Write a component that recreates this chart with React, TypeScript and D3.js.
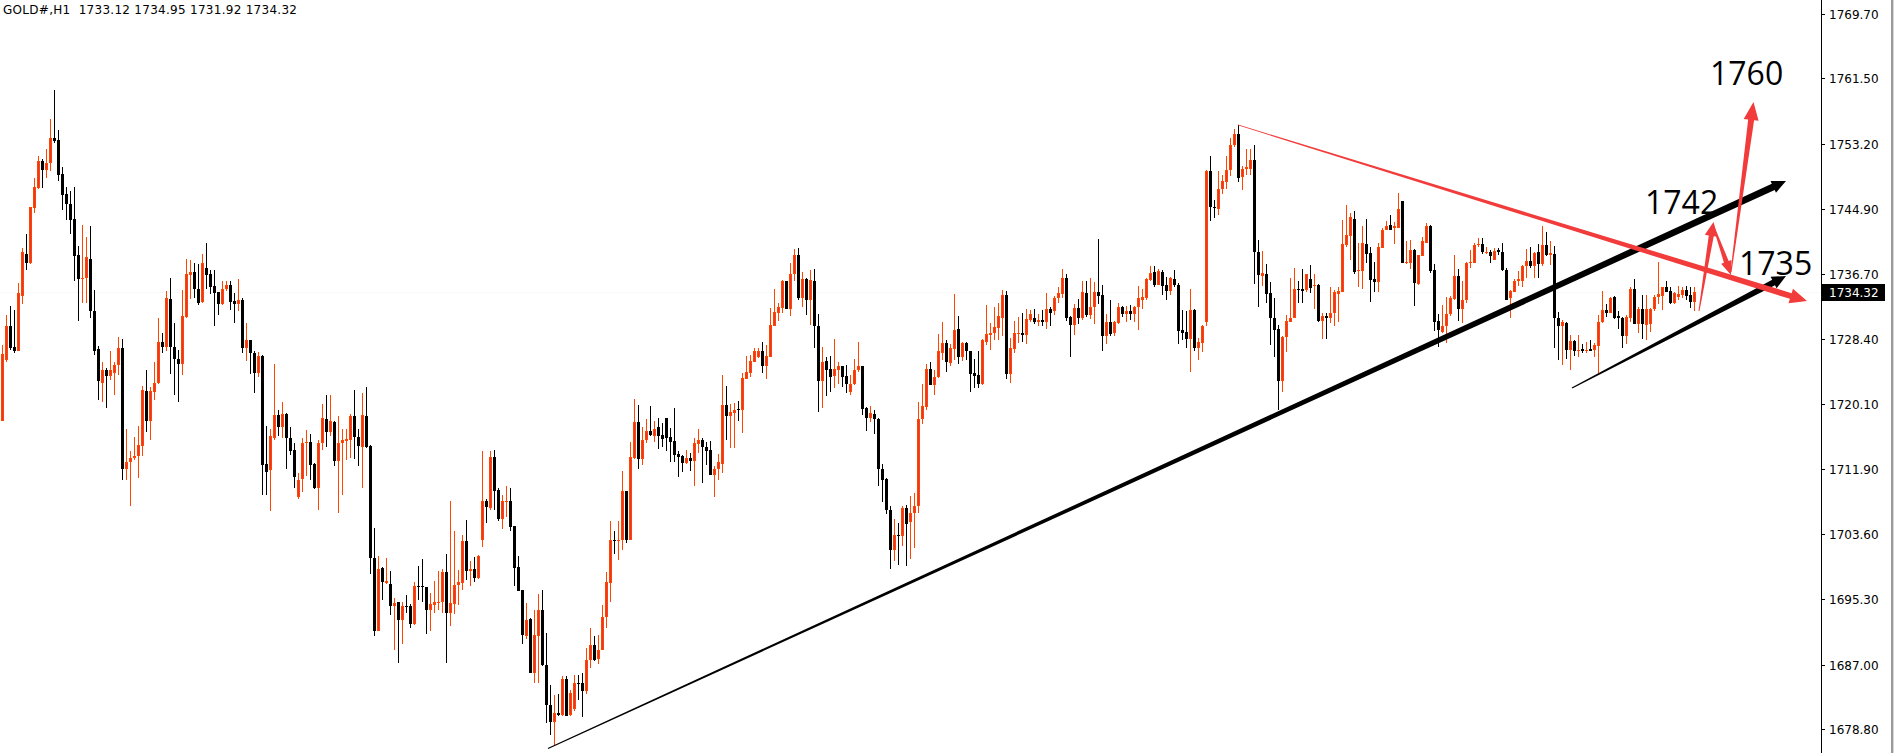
import React from 'react';
import * as d3 from 'd3';

// ---------- data (H1 candles, oldest first) ----------
const open = [
1718.0,1725.7,1730.0,1727.4,1726.8,1733.8,1739.2,1738.1,1745.0,1747.6,
1751.0,1749.9,1750.7,1753.9,1753.7,1749.4,1746.8,1745.6,1743.6,1739.1,
1736.0,1736.1,1738.6,1731.9,1727.1,1722.8,1724.5,1723.7,1724.0,1725.1,
1727.3,1711.8,1712.7,1713.2,1713.5,1714.8,1721.8,1718.0,1721.7,1722.8,
1728.0,1727.4,1733.5,1727.4,1725.8,1725.2,1731.2,1736.5,1736.9,1734.8,
1733.1,1737.4,1736.6,1735.1,1734.3,1732.8,1734.8,1735.3,1733.2,1732.8,
1733.3,1727.3,1728.3,1726.6,1724.1,1726.2,1712.5,1711.7,1715.8,1718.7,
1717.2,1718.9,1715.8,1714.3,1708.3,1710.6,1715.1,1715.3,1712.5,1709.5,
1715.1,1718.2,1716.6,1717.8,1712.9,1715.1,1715.4,1715.6,1718.6,1715.9,
1714.6,1718.6,1714.8,1700.5,1691.2,1699.3,1697.3,1697.2,1694.4,1694.9,
1692.7,1694.4,1694.4,1692.1,1697.0,1697.0,1696.8,1693.9,1694.6,1694.8,
1694.9,1698.7,1693.6,1694.7,1697.1,1697.4,1702.7,1698.9,1699.1,1698.0,
1702.8,1707.8,1706.9,1713.4,1709.2,1705.5,1707.7,1707.8,1704.6,1699.4,
1696.5,1690.6,1692.8,1685.9,1690.6,1693.9,1686.9,1681.9,1679.7,1680.8,
1680.6,1685.2,1680.6,1681.3,1684.7,1684.6,1683.6,1687.6,1689.5,1687.7,
1688.9,1693.0,1697.4,1702.8,1702.7,1702.8,1709.1,1702.8,1713.2,1717.8,
1713.1,1715.5,1716.7,1716.1,1717.2,1716.2,1718.3,1715.9,1715.4,1713.7,
1713.5,1712.6,1713.2,1712.9,1715.0,1715.5,1714.6,1714.3,1711.1,1711.9,
1712.5,1720.0,1718.6,1719.0,1719.5,1719.4,1723.3,1724.1,1725.5,1726.1,
1726.9,1724.9,1726.1,1730.0,1731.7,1732.3,1735.7,1732.2,1736.6,1739.1,
1733.6,1736.0,1733.3,1735.8,1730.0,1723.0,1725.6,1724.6,1723.7,1724.5,
1724.9,1723.7,1721.6,1722.6,1724.4,1725.0,1719.6,1718.3,1718.9,1718.2,
1711.9,1710.6,1706.6,1701.6,1703.5,1703.3,1706.9,1705.1,1706.2,1707.1,
1718.2,1719.8,1724.6,1722.5,1723.5,1726.6,1727.9,1725.3,1727.1,1729.6,
1726.1,1727.9,1726.8,1724.0,1723.8,1722.7,1728.0,1728.9,1729.2,1729.8,
1731.1,1734.0,1723.9,1727.1,1729.0,1729.2,1728.9,1730.8,1731.0,1730.6,
1730.8,1730.6,1732.2,1731.9,1733.6,1734.1,1736.2,1731.2,1730.1,1732.3,
1731.1,1734.2,1731.4,1732.5,1734.3,1734.0,1728.8,1730.5,1729.1,1730.4,
1732.5,1731.5,1731.9,1731.6,1732.5,1733.4,1733.6,1735.9,1736.9,1735.3,
1736.9,1735.3,1734.5,1736.0,1735.3,1729.5,1729.3,1728.4,1732.1,1727.3,
1727.9,1730.5,1749.7,1745.2,1744.9,1747.5,1748.4,1749.9,1753.0,1754.5,
1749.0,1750.0,1750.0,1751.1,1739.5,1736.4,1736.7,1734.2,1731.1,1729.7,
1723.1,1728.6,1730.6,1731.1,1734.8,1734.8,1734.6,1736.0,1735.2,1735.3,
1730.7,1731.3,1731.0,1731.7,1734.1,1734.4,1740.3,1741.5,1743.7,1737.0,
1737.0,1740.5,1739.3,1736.0,1735.6,1740.0,1742.2,1742.9,1742.5,1742.5,
1745.9,1738.1,1738.1,1739.7,1735.4,1738.9,1740.6,1742.7,1737.2,1730.7,
1729.3,1730.0,1731.5,1733.5,1736.4,1732.2,1733.3,1738.0,1738.1,1740.3,
1740.5,1739.4,1739.5,1738.4,1739.7,1739.4,1737.1,1733.6,1734.4,1735.8,
1735.8,1737.6,1738.3,1737.6,1739.4,1737.9,1740.3,1739.1,1739.2,1731.0,
1730.0,1730.4,1727.0,1728.1,1726.9,1727.1,1726.9,1727.1,1727.0,1727.5,
1730.5,1732.1,1731.7,1733.7,1731.3,1731.1,1728.8,1731.1,1734.7,1730.3,
1732.2,1730.2,1730.3,1732.2,1733.7,1733.9,1735.0,1734.5,1732.9,1733.7,
1734.0,1734.6,1734.0,1733.12,
];
const high = [
1727.6,1731.4,1732.6,1732.1,1735.5,1740.0,1741.7,1745.2,1748.8,1751.7,
1751.3,1752.6,1756.3,1760.0,1755.0,1750.2,1747.7,1747.2,1747.7,1740.2,
1742.9,1741.4,1742.7,1734.6,1727.5,1725.4,1724.7,1726.9,1725.4,1728.6,
1728.4,1716.9,1714.2,1715.9,1717.3,1722.4,1724.4,1722.3,1725.5,1731.1,
1729.1,1734.5,1736.2,1730.4,1727.0,1734.6,1738.6,1738.4,1738.1,1737.9,
1739.2,1740.6,1737.1,1737.1,1734.3,1735.7,1735.8,1735.8,1734.2,1736.0,
1733.6,1730.4,1728.3,1726.8,1726.7,1726.3,1717.3,1716.9,1725.2,1719.4,
1720.4,1719.0,1717.2,1715.2,1711.3,1715.8,1716.8,1716.3,1712.6,1715.5,
1720.1,1721.3,1721.3,1718.0,1718.6,1716.9,1716.9,1718.9,1721.9,1716.9,
1721.5,1722.3,1714.9,1704.4,1700.8,1699.4,1700.6,1698.9,1695.4,1694.9,
1695.0,1695.8,1694.7,1697.5,1699.5,1700.4,1696.9,1696.1,1697.6,1698.9,
1699.1,1701.1,1707.8,1704.0,1699.0,1703.5,1705.4,1700.2,1700.7,1700.9,
1714.2,1708.1,1714.1,1714.3,1709.5,1708.6,1709.7,1709.4,1704.6,1700.8,
1696.5,1694.8,1692.9,1693.9,1696.0,1696.5,1691.0,1684.4,1683.1,1683.3,
1685.6,1685.5,1683.7,1685.7,1685.7,1685.9,1689.1,1691.6,1690.6,1690.8,
1694.6,1698.7,1705.2,1704.0,1705.2,1711.6,1709.1,1715.3,1720.8,1720.0,
1717.2,1718.2,1719.9,1718.0,1718.3,1717.7,1718.3,1717.1,1719.6,1714.1,
1713.6,1714.3,1713.9,1715.8,1716.9,1715.8,1715.3,1715.4,1712.2,1713.8,
1723.8,1722.4,1720.1,1720.3,1720.5,1724.0,1726.2,1726.3,1727.3,1727.2,
1728.0,1727.6,1732.3,1734.7,1732.9,1735.9,1735.8,1738.0,1739.8,1739.9,
1736.9,1736.2,1737.2,1737.3,1731.6,1727.4,1726.1,1726.2,1728.4,1725.5,
1724.9,1725.1,1723.8,1725.8,1728.0,1725.0,1719.8,1719.9,1719.4,1718.4,
1712.5,1710.7,1707.1,1705.5,1705.0,1707.1,1707.3,1708.4,1708.8,1720.4,
1722.7,1725.2,1725.4,1724.4,1729.0,1730.6,1728.3,1727.7,1734.1,1731.3,
1728.0,1728.0,1726.9,1725.9,1726.8,1728.4,1732.7,1730.4,1732.4,1733.0,
1734.6,1734.5,1728.5,1730.7,1731.2,1731.7,1732.2,1732.1,1732.2,1731.6,
1732.1,1734.2,1732.4,1733.8,1735.0,1737.3,1736.7,1731.3,1732.8,1733.5,
1735.8,1735.7,1736.2,1735.6,1741.1,1735.3,1731.6,1733.3,1730.7,1733.0,
1732.6,1732.6,1732.7,1732.6,1735.1,1734.8,1736.2,1737.7,1737.6,1737.3,
1737.1,1736.3,1736.3,1737.2,1735.5,1732.1,1732.0,1734.7,1732.2,1728.5,
1730.2,1749.9,1751.7,1746.1,1749.8,1749.2,1751.6,1753.9,1755.1,1755.6,
1750.4,1752.5,1752.5,1753.1,1741.0,1739.6,1737.9,1735.6,1733.6,1730.2,
1728.7,1731.4,1736.1,1737.4,1735.8,1737.3,1736.7,1737.8,1736.7,1735.4,
1731.7,1731.7,1735.0,1734.6,1735.0,1743.5,1745.4,1744.4,1744.7,1740.6,
1742.7,1743.6,1740.1,1738.2,1740.6,1742.5,1743.4,1744.2,1743.2,1747.0,
1745.9,1740.9,1741.0,1739.8,1739.1,1741.4,1743.1,1742.9,1737.9,1731.6,
1732.7,1733.7,1733.8,1739.1,1737.3,1735.7,1738.2,1739.7,1740.6,1741.2,
1741.2,1740.1,1739.7,1739.9,1739.9,1740.6,1737.4,1734.6,1736.0,1737.0,
1737.8,1739.8,1740.1,1739.4,1740.4,1742.7,1742.0,1740.9,1740.2,1731.8,
1730.8,1730.5,1728.9,1728.3,1728.9,1727.8,1728.0,1728.3,1727.9,1731.4,
1734.5,1732.8,1733.7,1733.9,1731.9,1731.2,1731.4,1735.0,1736.0,1732.5,
1734.0,1734.0,1732.3,1734.0,1738.2,1735.0,1735.7,1735.0,1734.4,1735.1,
1735.0,1735.1,1735.0,1734.95,
];
const low = [
1717.9,1725.5,1727.0,1726.6,1726.8,1732.8,1737.2,1737.9,1744.4,1747.5,
1747.6,1748.9,1749.7,1753.3,1748.5,1744.8,1743.5,1741.7,1735.8,1730.7,
1733.0,1732.9,1731.0,1726.4,1720.6,1720.4,1719.6,1723.2,1721.3,1723.8,
1710.5,1710.4,1707.2,1713.0,1710.7,1713.5,1716.6,1715.5,1720.6,1722.7,
1726.6,1726.9,1723.9,1721.3,1720.4,1723.8,1731.1,1733.5,1733.6,1732.7,
1732.9,1734.7,1734.1,1730.0,1731.4,1732.7,1734.5,1732.1,1730.4,1731.9,
1726.6,1725.6,1723.9,1721.5,1723.6,1708.6,1708.6,1706.5,1715.5,1716.0,
1715.8,1711.9,1713.6,1709.5,1708.1,1708.9,1711.0,1710.5,1709.3,1706.6,
1714.3,1714.7,1716.0,1712.2,1706.3,1708.6,1713.0,1713.3,1713.1,1712.2,
1709.5,1714.5,1698.5,1690.6,1691.2,1695.2,1697.2,1693.3,1688.8,1687.2,
1689.6,1693.5,1691.7,1692.0,1695.2,1694.9,1690.9,1691.2,1693.6,1693.9,
1693.6,1687.2,1691.9,1693.4,1694.6,1696.5,1697.8,1697.0,1697.5,1697.9,
1702.0,1705.0,1706.7,1706.7,1705.3,1704.2,1705.8,1704.0,1697.0,1696.3,
1689.6,1690.2,1685.9,1684.7,1684.7,1686.8,1679.6,1678.1,1676.8,1680.4,
1680.4,1680.4,1680.4,1681.1,1682.5,1680.3,1683.3,1686.5,1687.5,1687.1,
1688.9,1691.7,1694.9,1701.1,1700.3,1701.6,1702.5,1702.8,1713.1,1711.8,
1712.4,1715.2,1716.0,1715.3,1714.4,1714.6,1714.1,1712.7,1712.8,1710.8,
1711.5,1712.5,1711.6,1709.7,1713.9,1710.1,1712.4,1711.1,1708.3,1710.5,
1711.4,1715.5,1714.5,1714.5,1717.9,1716.4,1723.3,1723.5,1725.5,1726.0,
1724.1,1723.3,1726.1,1730.0,1730.7,1731.7,1732.2,1731.3,1735.7,1733.3,
1732.4,1731.4,1730.2,1727.3,1719.1,1719.6,1721.1,1721.7,1722.2,1722.7,
1722.3,1721.5,1721.3,1722.5,1724.2,1718.7,1716.7,1717.8,1716.3,1709.7,
1707.6,1706.1,1699.2,1700.2,1699.7,1702.1,1699.5,1700.4,1701.8,1706.2,
1717.6,1719.4,1722.5,1721.2,1723.4,1725.7,1724.2,1724.9,1725.7,1725.2,
1725.6,1725.7,1721.7,1722.2,1722.1,1722.5,1727.6,1727.0,1728.2,1728.2,
1728.7,1723.3,1722.8,1726.6,1727.9,1728.0,1727.8,1730.6,1730.3,1730.0,
1730.0,1729.6,1730.0,1731.4,1733.0,1733.6,1730.7,1726.1,1728.9,1730.3,
1730.8,1731.2,1730.9,1730.3,1732.8,1726.9,1727.8,1728.8,1728.8,1730.3,
1731.2,1730.5,1730.8,1730.5,1729.5,1732.2,1733.3,1735.8,1735.0,1735.2,
1734.0,1733.3,1734.0,1735.0,1727.8,1728.3,1727.2,1724.2,1726.9,1725.7,
1726.7,1730.0,1743.4,1743.8,1744.2,1746.8,1747.5,1749.1,1752.8,1748.3,
1747.3,1749.2,1749.2,1735.4,1732.5,1735.1,1733.0,1727.6,1726.1,1719.4,
1721.6,1726.7,1730.5,1731.0,1733.0,1733.0,1734.4,1734.2,1732.2,1730.6,
1728.4,1728.4,1730.4,1730.0,1730.6,1734.3,1740.1,1738.4,1736.6,1735.0,
1734.8,1738.1,1733.1,1734.4,1734.3,1739.9,1742.2,1742.2,1740.4,1742.5,
1738.1,1737.9,1737.3,1732.6,1735.3,1738.9,1740.6,1736.8,1729.4,1727.4,
1729.2,1727.9,1731.3,1733.3,1730.7,1730.4,1733.0,1737.4,1738.0,1740.1,
1739.2,1739.2,1738.0,1738.4,1739.1,1737.0,1733.4,1731.0,1734.3,1735.1,
1735.0,1736.1,1737.4,1736.1,1736.2,1737.7,1738.9,1737.8,1727.3,1725.7,
1725.1,1725.9,1724.5,1726.2,1726.1,1726.6,1726.6,1726.8,1726.1,1724.0,
1730.4,1731.2,1731.7,1730.9,1729.6,1727.2,1727.8,1730.6,1730.3,1729.2,
1728.4,1728.3,1729.3,1731.9,1732.8,1732.1,1734.3,1732.8,1732.8,1733.3,
1733.6,1733.3,1732.3,1731.92,
];
const close = [
1726.5,1730.0,1727.3,1726.8,1734.2,1739.4,1738.1,1745.1,1747.7,1751.0,
1749.9,1750.7,1753.9,1753.6,1749.2,1746.7,1745.6,1743.5,1738.9,1736.0,
1736.1,1738.8,1731.9,1726.9,1723.0,1724.5,1723.7,1724.5,1725.1,1727.3,
1711.8,1712.7,1713.2,1713.5,1714.9,1721.9,1717.9,1721.8,1722.8,1728.0,
1727.4,1733.6,1727.4,1725.8,1725.2,1731.3,1736.7,1736.9,1734.7,1733.0,
1738.1,1736.5,1735.0,1734.2,1732.8,1734.8,1735.3,1733.1,1732.8,1733.3,
1727.3,1728.3,1726.6,1724.0,1726.2,1712.4,1711.5,1716.0,1718.7,1717.2,
1718.9,1715.8,1714.2,1710.8,1710.5,1715.1,1715.3,1712.3,1709.4,1715.1,
1718.3,1716.6,1718.0,1712.9,1715.2,1715.5,1715.7,1718.6,1715.9,1714.8,
1718.7,1714.7,1700.5,1691.2,1699.2,1697.5,1697.6,1694.4,1694.8,1692.7,
1694.4,1694.3,1692.2,1697.0,1696.9,1696.8,1693.9,1694.7,1694.9,1695.0,
1698.7,1693.6,1694.8,1697.1,1697.5,1702.7,1698.9,1699.1,1698.0,1700.8,
1707.8,1707.0,1713.4,1709.1,1705.5,1707.8,1707.8,1704.5,1699.3,1696.4,
1690.7,1692.7,1685.9,1690.8,1693.9,1686.9,1681.8,1679.7,1680.8,1680.6,
1685.2,1680.5,1683.4,1684.7,1684.6,1683.6,1687.6,1689.5,1687.6,1688.9,
1693.0,1697.5,1702.8,1702.7,1702.8,1709.1,1702.8,1713.4,1717.8,1713.1,
1715.5,1716.7,1716.2,1717.0,1716.1,1715.7,1715.8,1715.3,1713.6,1713.4,
1712.6,1713.2,1712.9,1715.2,1715.5,1714.6,1714.2,1711.1,1711.9,1712.7,
1720.0,1718.6,1719.1,1719.4,1719.4,1723.4,1724.2,1725.6,1726.8,1726.9,
1724.9,1726.2,1730.1,1731.8,1732.4,1735.7,1732.2,1736.7,1739.1,1733.6,
1736.0,1733.3,1735.9,1730.0,1723.0,1725.5,1724.4,1723.6,1724.6,1724.9,
1723.6,1722.6,1722.7,1724.4,1725.0,1719.5,1718.4,1719.0,1718.2,1711.9,
1710.5,1706.6,1701.5,1703.5,1703.4,1706.9,1704.9,1706.2,1707.2,1718.2,
1719.9,1724.6,1722.5,1723.5,1726.9,1727.9,1725.4,1727.2,1729.5,1726.1,
1727.9,1726.8,1723.9,1723.7,1722.7,1728.3,1729.0,1729.2,1729.9,1731.3,
1734.0,1723.9,1727.2,1729.1,1729.2,1728.9,1730.9,1731.6,1730.5,1730.8,
1730.5,1732.2,1731.7,1733.6,1734.2,1736.2,1731.0,1730.1,1732.3,1731.1,
1734.3,1731.4,1732.5,1734.4,1733.9,1728.8,1730.5,1729.0,1730.5,1732.5,
1731.5,1731.9,1731.5,1732.5,1733.6,1733.7,1736.0,1736.8,1735.3,1737.0,
1735.1,1734.5,1736.1,1735.3,1729.4,1729.2,1728.4,1732.1,1727.3,1728.0,
1730.0,1749.7,1745.2,1745.1,1747.5,1748.5,1749.9,1753.1,1754.5,1748.9,
1750.0,1750.2,1751.1,1739.4,1736.5,1736.8,1734.1,1731.1,1729.5,1723.1,
1728.6,1730.7,1731.1,1734.8,1734.7,1734.5,1736.6,1734.9,1735.3,1730.7,
1731.3,1731.0,1731.7,1734.3,1734.5,1740.5,1741.6,1743.9,1736.9,1737.2,
1740.6,1739.2,1735.9,1735.6,1740.1,1742.3,1742.8,1742.3,1742.7,1744.9,
1738.1,1738.2,1739.7,1735.5,1739.0,1740.9,1742.7,1737.0,1730.6,1729.5,
1730.0,1731.6,1733.6,1736.4,1732.2,1733.4,1738.1,1738.2,1740.3,1740.4,
1739.4,1739.5,1738.9,1739.6,1739.4,1737.1,1733.4,1734.5,1735.8,1736.0,
1737.7,1738.3,1737.6,1739.3,1737.9,1740.3,1739.1,1739.3,1731.0,1730.0,
1730.5,1727.0,1728.1,1726.9,1727.0,1726.8,1727.0,1726.9,1727.6,1730.5,
1732.1,1731.7,1733.6,1731.1,1731.0,1728.8,1731.2,1734.8,1730.3,1732.2,
1730.3,1732.2,1732.2,1733.7,1734.1,1735.0,1734.4,1732.9,1734.2,1734.1,
1734.6,1733.9,1733.1,1734.32,
];

const priceTicks = [1769.7, 1761.5, 1753.2, 1744.9, 1736.7, 1728.4, 1720.1, 1711.9, 1703.6, 1695.3, 1687.0, 1678.8];
const symbolTitle = 'GOLD#,H1  1733.12 1734.95 1731.92 1734.32';
const lastPrice = 1734.32;

// drawn objects, anchored in (bar index, price)
const blackArrows = [
  { from: [136.5, 1676.32], to: [446, 1748.47] },
  { from: [392.5, 1722.15], to: [446, 1736.39] },
];
const redArrows = [
  { from: [309, 1755.59], to: [451.25, 1733.21], w0: 0.8, w1: 6, hl: 17, hw: 15 },
  { from: [424.25, 1731.94], to: [427.875, 1743.26], w0: 1, w1: 5, hl: 14, hw: 13 },
  { from: [427.875, 1742.75], to: [432.25, 1736.52], w0: 1.2, w1: 5, hl: 14, hw: 11 },
  { from: [432.25, 1736.9], to: [437.875, 1758.51], w0: 1, w1: 6, hl: 18, hw: 15 },
];
const targetLabels = [
  { text: '1760', at: [427, 1760.67] },
  { text: '1742', at: [410.75, 1744.27] },
  { text: '1735', at: [434.25, 1736.52] },
];

const W = 1897;
const H = 753;
const AXIS_X = 1821;

function arrowPoints(x0: number, y0: number, x1: number, y1: number, w0: number, w1: number, hl: number, hw: number) {
  const dx = x1 - x0, dy = y1 - y0;
  const len = Math.hypot(dx, dy);
  const ux = dx / len, uy = dy / len;
  const nx = -uy, ny = ux;
  const sx = x1 - ux * hl, sy = y1 - uy * hl;
  const p = (x: number, y: number) => `${x.toFixed(2)},${y.toFixed(2)}`;
  return [
    p(x0 + nx * w0 / 2, y0 + ny * w0 / 2),
    p(sx + nx * w1 / 2, sy + ny * w1 / 2),
    p(sx + nx * hw / 2, sy + ny * hw / 2),
    p(x1, y1),
    p(sx - nx * hw / 2, sy - ny * hw / 2),
    p(sx - nx * w1 / 2, sy - ny * w1 / 2),
    p(x0 - nx * w0 / 2, y0 - ny * w0 / 2),
  ].join(' ');
}

export default function App() {
  const x = d3.scaleLinear().domain([0, 423]).range([2, 1694]);
  const y = d3.scaleLinear().domain([1678.8, 1769.7]).range([729, 14]);

  const BULL_EDGE = '#ff4500';
  const BULL_FILL = '#e8352b';
  const RED = '#f23b3b';

  const candles = open.map((o, i) => {
    const c = close[i];
    const cx = Math.round(x(i));
    const bull = c >= o;
    const yHi = Math.round(y(high[i]));
    const yLo = Math.round(y(low[i]));
    const yTop = Math.round(y(Math.max(o, c)));
    const yBot = Math.round(y(Math.min(o, c)));
    const h = Math.max(1, yBot - yTop);
    const col = bull ? BULL_EDGE : '#000';
    return (
      <g key={i}>
        <line x1={cx + 0.5} x2={cx + 0.5} y1={yHi} y2={Math.max(yLo, yHi + 1)} stroke={col} strokeWidth={1} />
        {bull ? (
          h >= 2 ? (
            <rect x={cx - 0.5} y={yTop + 0.5} width={2} height={h - 1} fill={BULL_FILL} stroke={BULL_EDGE} strokeWidth={1} />
          ) : (
            <rect x={cx - 1} y={yTop} width={3} height={1} fill={BULL_EDGE} />
          )
        ) : (
          <rect x={cx - 1} y={yTop} width={3} height={h} fill="#000" />
        )}
      </g>
    );
  });

  const lastY = Math.round(y(lastPrice));

  return (
    <svg width={W} height={H} style={{ position: 'absolute', left: 0, top: 0, display: 'block', background: '#fff' }}
      xmlns="http://www.w3.org/2000/svg">
      <rect x={0} y={0} width={W} height={H} fill="#fff" />
      {/* bid line */}
      <line x1={0} x2={AXIS_X} y1={lastY + 0.5} y2={lastY + 0.5} stroke="#f8f8f8" strokeWidth={1} />
      <g>{candles}</g>

      {/* trend arrows */}
      {blackArrows.map((a, k) => (
        <polygon key={'b' + k}
          points={arrowPoints(x(a.from[0]), y(a.from[1]), x(a.to[0]), y(a.to[1]), 1.2, k === 0 ? 7 : 6, 14, 13)}
          fill="#000" />
      ))}
      {redArrows.map((a, k) => (
        <polygon key={'r' + k}
          points={arrowPoints(x(a.from[0]), y(a.from[1]), x(a.to[0]), y(a.to[1]), a.w0, a.w1, a.hl, a.hw)}
          fill={RED} />
      ))}
      {targetLabels.map((t) => (
        <text key={t.text} x={x(t.at[0])} y={y(t.at[1])} fontFamily="'Open Sans', 'Liberation Sans', sans-serif"
          fontSize={32} fill="#000">{t.text}</text>
      ))}

      {/* title */}
      <text x={3} y={14} fontFamily="'DejaVu Sans', sans-serif" fontSize={12} fill="#000"
        textLength={294} lengthAdjust="spacing" style={{ whiteSpace: 'pre' }}>{symbolTitle}</text>

      {/* price axis */}
      <line x1={AXIS_X + 0.5} x2={AXIS_X + 0.5} y1={0} y2={H} stroke="#000" strokeWidth={1} />
      {priceTicks.map((t) => {
        const ty = Math.round(y(t));
        return (
          <g key={t}>
            <line x1={AXIS_X} x2={AXIS_X + 4} y1={ty + 0.5} y2={ty + 0.5} stroke="#000" strokeWidth={1} />
            <text x={1829} y={ty + 4.5} fontFamily="'DejaVu Sans', sans-serif" fontSize={12} fill="#000">{d3.format('.2f')(t)}</text>
          </g>
        );
      })}
      <rect x={AXIS_X + 1} y={lastY - 8} width={63} height={17} fill="#000" />
      <text x={1829} y={lastY + 4.5} fontFamily="'DejaVu Sans', sans-serif" fontSize={12} fill="#fff">{d3.format('.2f')(lastPrice)}</text>

      {/* window border */}
      <rect x={1891} y={0} width={2} height={H} fill="#9a9a9a" />
      <rect x={1893} y={0} width={1} height={H} fill="#d8d8d8" />
    </svg>
  );
}
